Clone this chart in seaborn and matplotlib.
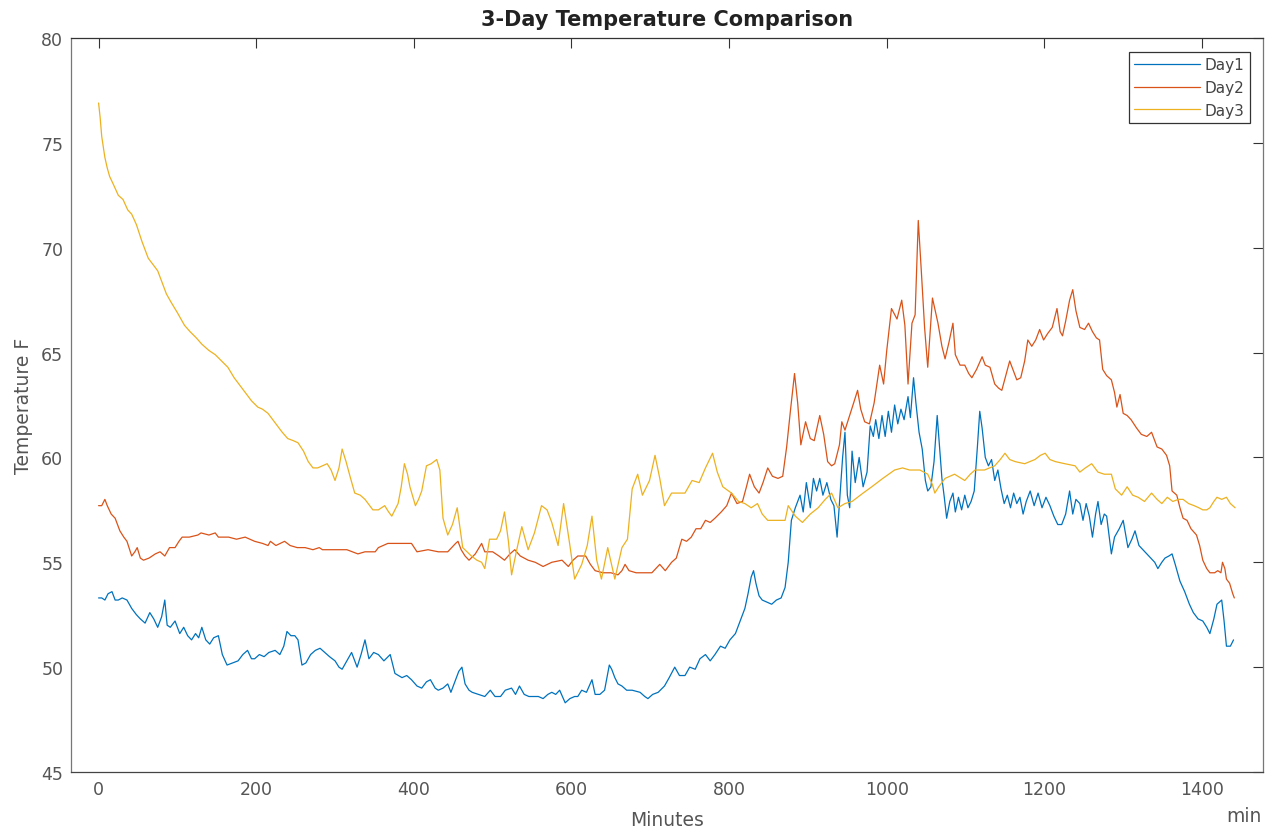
import matplotlib
matplotlib.use("Agg")
import matplotlib.pyplot as plt
import seaborn as sns
import pandas as pd

# ---------------- data ----------------
day_names = ["Day1", "Day2", "Day3"]

day1_minutes = [0, 4, 8, 12, 17, 21, 25, 30, 36, 42, 48, 53, 59, 65, 70, 75, 80, 84, 87, 91, 97, 103, 108, 113, 118, 123, 127, 131, 136, 141, 146, 152, 157, 163, 170, 177, 183, 189, 194, 198, 204, 210, 216, 224, 230, 235, 239, 244, 249, 253, 258, 263, 269, 275, 281, 287, 293, 300, 305, 309, 315, 321, 328, 333, 338, 343, 349, 355, 362, 370, 376, 385, 391, 397, 404, 410, 416, 421, 427, 431, 437, 443, 447, 452, 457, 461, 465, 470, 474, 482, 490, 497, 503, 510, 516, 524, 529, 534, 540, 546, 552, 558, 564, 570, 575, 580, 585, 592, 598, 604, 608, 613, 619, 626, 630, 636, 642, 648, 651, 655, 659, 664, 670, 677, 687, 693, 697, 703, 710, 718, 724, 731, 737, 744, 750, 757, 763, 770, 776, 782, 789, 795, 801, 808, 814, 820, 824, 828, 831, 834, 838, 842, 848, 854, 860, 866, 871, 875, 879, 884, 890, 894, 898, 903, 907, 911, 915, 919, 924, 929, 933, 937, 941, 944, 947, 950, 953, 956, 960, 965, 970, 975, 979, 983, 986, 990, 994, 998, 1002, 1006, 1010, 1014, 1018, 1022, 1027, 1030, 1034, 1037, 1041, 1045, 1049, 1052, 1056, 1060, 1064, 1067, 1070, 1073, 1076, 1080, 1084, 1087, 1091, 1095, 1099, 1103, 1107, 1111, 1115, 1118, 1121, 1125, 1129, 1133, 1137, 1141, 1145, 1149, 1153, 1157, 1161, 1165, 1169, 1173, 1177, 1182, 1187, 1192, 1197, 1202, 1207, 1212, 1217, 1222, 1227, 1232, 1236, 1240, 1245, 1249, 1253, 1257, 1261, 1265, 1268, 1272, 1276, 1279, 1285, 1289, 1295, 1300, 1306, 1311, 1315, 1320, 1325, 1330, 1335, 1340, 1344, 1349, 1353, 1358, 1362, 1366, 1372, 1378, 1384, 1389, 1395, 1401, 1406, 1410, 1415, 1419, 1425, 1428, 1431, 1436, 1440]
day1_temps = [53.3, 53.3, 53.2, 53.5, 53.6, 53.2, 53.2, 53.3, 53.2, 52.8, 52.5, 52.3, 52.1, 52.6, 52.3, 51.9, 52.4, 53.2, 52.0, 51.9, 52.2, 51.6, 51.9, 51.5, 51.3, 51.6, 51.4, 51.9, 51.3, 51.1, 51.4, 51.5, 50.6, 50.1, 50.2, 50.3, 50.6, 50.8, 50.4, 50.4, 50.6, 50.5, 50.7, 50.8, 50.6, 51.0, 51.7, 51.5, 51.5, 51.3, 50.1, 50.2, 50.6, 50.8, 50.9, 50.7, 50.5, 50.3, 50.0, 49.9, 50.3, 50.7, 50.0, 50.6, 51.3, 50.4, 50.7, 50.6, 50.3, 50.6, 49.7, 49.5, 49.6, 49.4, 49.1, 49.0, 49.3, 49.4, 49.0, 48.9, 49.0, 49.2, 48.8, 49.3, 49.8, 50.0, 49.2, 48.9, 48.8, 48.7, 48.6, 48.9, 48.6, 48.6, 48.9, 49.0, 48.7, 49.1, 48.7, 48.6, 48.6, 48.6, 48.5, 48.7, 48.8, 48.7, 48.9, 48.3, 48.5, 48.6, 48.6, 48.9, 48.8, 49.4, 48.7, 48.7, 48.9, 50.1, 49.9, 49.5, 49.2, 49.1, 48.9, 48.9, 48.8, 48.6, 48.5, 48.7, 48.8, 49.1, 49.5, 50.0, 49.6, 49.6, 50.0, 49.9, 50.4, 50.6, 50.3, 50.6, 51.0, 50.9, 51.3, 51.6, 52.2, 52.8, 53.5, 54.3, 54.6, 54.0, 53.4, 53.2, 53.1, 53.0, 53.2, 53.3, 53.8, 55.0, 57.0, 57.6, 58.2, 57.4, 58.8, 57.6, 59.0, 58.4, 59.0, 58.2, 58.8, 58.0, 57.7, 56.2, 58.4, 60.0, 61.2, 58.2, 57.6, 60.3, 58.8, 60.0, 58.6, 59.3, 61.5, 61.0, 61.8, 60.9, 62.0, 61.0, 62.2, 61.2, 62.5, 61.6, 62.3, 61.8, 62.9, 61.9, 63.8, 62.6, 61.2, 60.4, 58.9, 58.4, 58.6, 59.8, 62.0, 60.5, 59.0, 58.1, 57.1, 57.9, 58.3, 57.4, 58.1, 57.5, 58.2, 57.6, 57.9, 58.4, 60.5, 62.2, 61.4, 60.0, 59.6, 59.9, 58.9, 59.4, 58.5, 57.8, 58.2, 57.6, 58.3, 57.8, 58.1, 57.3, 57.9, 58.4, 57.7, 58.3, 57.6, 58.1, 57.7, 57.2, 56.8, 56.8, 57.3, 58.4, 57.3, 58.0, 57.8, 57.0, 57.8, 57.2, 56.2, 57.3, 57.9, 56.8, 57.3, 57.2, 55.4, 56.2, 56.6, 57.0, 55.7, 56.1, 56.5, 55.8, 55.6, 55.4, 55.2, 55.0, 54.7, 55.0, 55.2, 55.3, 55.4, 54.9, 54.1, 53.6, 53.0, 52.6, 52.3, 52.2, 51.9, 51.6, 52.3, 53.0, 53.2, 52.2, 51.0, 51.0, 51.3]

day2_minutes = [0, 4, 8, 11, 16, 21, 27, 32, 36, 42, 46, 49, 53, 57, 64, 72, 78, 84, 90, 97, 102, 106, 115, 126, 130, 140, 148, 152, 165, 175, 186, 198, 208, 215, 218, 225, 236, 243, 252, 262, 272, 280, 284, 300, 315, 322, 329, 338, 351, 355, 367, 380, 397, 404, 418, 431, 443, 448, 453, 456, 460, 465, 470, 478, 486, 490, 500, 508, 515, 522, 528, 535, 545, 554, 564, 575, 588, 596, 602, 608, 618, 624, 630, 640, 650, 659, 664, 668, 673, 682, 692, 702, 712, 719, 727, 733, 740, 746, 752, 758, 764, 770, 776, 782, 790, 797, 803, 810, 817, 822, 826, 832, 838, 843, 849, 855, 862, 868, 873, 878, 883, 887, 891, 897, 903, 908, 915, 920, 925, 930, 934, 940, 943, 947, 953, 958, 963, 967, 972, 978, 984, 991, 996, 1000, 1006, 1013, 1019, 1023, 1027, 1032, 1036, 1040, 1044, 1048, 1052, 1058, 1065, 1070, 1074, 1079, 1084, 1087, 1093, 1099, 1104, 1108, 1114, 1121, 1125, 1131, 1137, 1142, 1146, 1151, 1156, 1160, 1165, 1170, 1175, 1179, 1184, 1189, 1194, 1199, 1204, 1210, 1216, 1220, 1223, 1227, 1232, 1236, 1240, 1245, 1251, 1256, 1261, 1266, 1270, 1274, 1279, 1285, 1289, 1292, 1296, 1300, 1305, 1310, 1317, 1323, 1330, 1336, 1343, 1349, 1355, 1359, 1362, 1368, 1372, 1376, 1381, 1386, 1393, 1397, 1401, 1406, 1410, 1416, 1420, 1424, 1426, 1429, 1431, 1435, 1439, 1441]
day2_temps = [57.7, 57.7, 58.0, 57.7, 57.3, 57.1, 56.5, 56.2, 56.0, 55.3, 55.5, 55.7, 55.2, 55.1, 55.2, 55.4, 55.5, 55.3, 55.7, 55.7, 56.0, 56.2, 56.2, 56.3, 56.4, 56.3, 56.4, 56.2, 56.2, 56.1, 56.2, 56.0, 55.9, 55.8, 56.0, 55.8, 56.0, 55.8, 55.7, 55.7, 55.6, 55.7, 55.6, 55.6, 55.6, 55.5, 55.4, 55.5, 55.5, 55.7, 55.9, 55.9, 55.9, 55.5, 55.6, 55.5, 55.5, 55.7, 55.9, 56.0, 55.6, 55.3, 55.1, 55.4, 55.9, 55.5, 55.5, 55.3, 55.1, 55.4, 55.6, 55.3, 55.1, 55.0, 54.8, 55.0, 55.1, 54.8, 55.1, 55.3, 55.3, 54.9, 54.6, 54.5, 54.5, 54.4, 54.6, 54.9, 54.6, 54.5, 54.5, 54.5, 54.9, 54.6, 55.0, 55.2, 56.1, 56.0, 56.2, 56.6, 56.6, 57.0, 56.9, 57.1, 57.4, 57.7, 58.3, 57.8, 57.9, 58.6, 59.2, 58.6, 58.3, 58.8, 59.5, 59.1, 59.0, 59.1, 60.5, 62.3, 64.0, 62.6, 60.6, 61.7, 60.9, 60.8, 62.0, 61.1, 59.8, 59.6, 59.7, 60.6, 61.7, 61.3, 62.0, 62.6, 63.2, 62.3, 61.7, 61.6, 62.6, 64.4, 63.5, 65.1, 67.1, 66.6, 67.5, 66.3, 63.5, 66.4, 66.8, 71.3, 68.8, 66.2, 64.3, 67.6, 66.4, 65.3, 64.7, 65.5, 66.4, 64.9, 64.4, 64.4, 64.0, 63.8, 64.2, 64.8, 64.4, 64.3, 63.5, 63.3, 63.2, 63.9, 64.6, 64.2, 63.7, 63.8, 64.6, 65.6, 65.3, 65.6, 66.1, 65.6, 65.9, 66.2, 67.1, 66.0, 65.8, 66.5, 67.5, 68.0, 67.0, 66.2, 66.1, 66.4, 66.0, 65.7, 65.6, 64.2, 63.9, 63.7, 63.1, 62.4, 63.0, 62.1, 62.0, 61.8, 61.4, 61.1, 61.0, 61.2, 60.5, 60.4, 60.1, 59.6, 58.4, 58.2, 57.6, 57.1, 57.0, 56.6, 56.3, 55.8, 55.1, 54.7, 54.5, 54.5, 54.6, 54.5, 55.0, 54.7, 54.2, 54.0, 53.5, 53.3]

day3_minutes = [0, 2, 4, 8, 11, 14, 19, 25, 31, 37, 42, 48, 55, 63, 69, 75, 80, 86, 92, 100, 109, 116, 124, 131, 140, 148, 156, 164, 172, 182, 188, 194, 202, 208, 215, 221, 227, 233, 240, 247, 253, 260, 266, 272, 278, 284, 290, 295, 300, 305, 309, 314, 319, 325, 332, 338, 348, 355, 363, 368, 372, 380, 384, 388, 392, 395, 402, 406, 410, 416, 422, 429, 433, 437, 443, 449, 455, 462, 473, 480, 486, 490, 496, 505, 510, 515, 520, 524, 530, 537, 545, 553, 562, 569, 575, 583, 590, 598, 604, 613, 620, 626, 632, 638, 646, 655, 664, 671, 677, 684, 690, 699, 706, 712, 718, 727, 735, 744, 753, 762, 770, 779, 785, 792, 803, 812, 820, 828, 836, 842, 849, 860, 871, 875, 884, 893, 903, 913, 922, 930, 938, 947, 956, 970, 981, 995, 1010, 1020, 1029, 1042, 1052, 1058, 1061, 1066, 1074, 1086, 1099, 1106, 1112, 1124, 1137, 1144, 1150, 1156, 1163, 1175, 1188, 1195, 1201, 1207, 1214, 1226, 1239, 1245, 1252, 1260, 1268, 1276, 1285, 1290, 1298, 1305, 1312, 1319, 1327, 1336, 1343, 1349, 1356, 1363, 1370, 1376, 1383, 1390, 1396, 1401, 1406, 1410, 1415, 1419, 1425, 1431, 1436, 1442]
day3_temps = [76.9, 76.2, 75.3, 74.3, 73.8, 73.4, 73.0, 72.5, 72.3, 71.8, 71.6, 71.1, 70.3, 69.5, 69.2, 68.9, 68.4, 67.8, 67.4, 66.9, 66.3, 66.0, 65.7, 65.4, 65.1, 64.9, 64.6, 64.3, 63.8, 63.3, 63.0, 62.7, 62.4, 62.3, 62.1, 61.8, 61.5, 61.2, 60.9, 60.8, 60.7, 60.3, 59.8, 59.5, 59.5, 59.6, 59.7, 59.4, 58.9, 59.5, 60.4, 59.8, 59.1, 58.3, 58.2, 58.0, 57.5, 57.5, 57.7, 57.4, 57.2, 57.8, 58.6, 59.7, 59.2, 58.6, 57.7, 58.0, 58.4, 59.6, 59.7, 59.9, 59.4, 57.1, 56.3, 56.8, 57.6, 55.7, 55.3, 55.1, 55.0, 54.7, 56.1, 56.1, 56.5, 57.4, 56.0, 54.4, 55.5, 56.7, 55.6, 56.4, 57.7, 57.5, 56.9, 55.8, 57.8, 55.8, 54.2, 54.9, 55.8, 57.2, 55.1, 54.2, 55.7, 54.2, 55.7, 56.1, 58.5, 59.2, 58.2, 58.9, 60.1, 59.0, 57.7, 58.3, 58.3, 58.3, 58.9, 58.8, 59.5, 60.2, 59.3, 58.6, 58.3, 57.9, 57.8, 57.6, 57.8, 57.3, 57.0, 57.0, 57.0, 57.7, 57.2, 56.9, 57.3, 57.6, 58.0, 58.3, 57.6, 57.8, 57.9, 58.3, 58.6, 59.0, 59.4, 59.5, 59.4, 59.4, 59.2, 58.7, 58.3, 58.6, 59.0, 59.2, 58.9, 59.2, 59.4, 59.4, 59.6, 59.9, 60.2, 59.9, 59.8, 59.7, 59.9, 60.1, 60.2, 59.9, 59.8, 59.7, 59.6, 59.3, 59.5, 59.7, 59.3, 59.2, 59.2, 58.5, 58.2, 58.6, 58.2, 58.1, 57.9, 58.3, 58.0, 57.8, 58.1, 57.9, 58.0, 58.0, 57.8, 57.7, 57.6, 57.5, 57.5, 57.6, 57.9, 58.1, 58.0, 58.1, 57.8, 57.6]

x_ticks = [0, 200, 400, 600, 800, 1000, 1200, 1400]
y_ticks = [45, 50, 55, 60, 65, 70, 75, 80]
line_colors = ["#0072BD", "#D95319", "#EDB120"]

# ---------------- figure ----------------
sns.set_theme(style="white")
plt.rcParams["font.family"] = ["DejaVu Sans"]

frames = []
for name, mins, temps in zip(day_names,
                             [day1_minutes, day2_minutes, day3_minutes],
                             [day1_temps, day2_temps, day3_temps]):
    frames.append(pd.DataFrame({"Minutes": mins, "Temperature": temps, "Day": name}))
df = pd.concat(frames, ignore_index=True)

W, H = 1265, 829
fig = plt.figure(figsize=(W / 100, H / 100), dpi=100)
ax = fig.add_axes([71 / W, (H - 773) / H, (1262.7 - 71) / W, (773 - 39) / H])

sns.lineplot(data=df, x="Minutes", y="Temperature", hue="Day",
             hue_order=day_names, palette=line_colors,
             estimator=None, sort=False, linewidth=0.9, ax=ax)

ax.set_xlim(-35, 1477)
ax.set_ylim(45, 80)
ax.set_xticks(x_ticks)
ax.set_yticks(y_ticks)
ax.tick_params(direction="in", length=7, width=0.8, top=True, right=True,
               color="#333333", labelcolor="#555555", labelsize=12.5, pad=5.5)

for side, col in [("top", "#333333"), ("bottom", "#444444"),
                  ("left", "#777777"), ("right", "#777777")]:
    ax.spines[side].set_color(col)
    ax.spines[side].set_linewidth(0.9)
    ax.spines[side].set_visible(True)

ax.set_xlabel("Minutes", fontsize=13.5, color="#555555", labelpad=9)
ax.set_ylabel("Temperature F", fontsize=13.5, color="#555555", labelpad=6)
ax.set_title("3-Day Temperature Comparison", fontsize=15, fontweight="bold",
             color="#222222", pad=9.5)

handles, labels = ax.get_legend_handles_labels()
pairs = [(h, l) for h, l in zip(handles, labels) if l in day_names]
leg = ax.legend([p[0] for p in pairs], [p[1] for p in pairs],
                loc="upper right", bbox_to_anchor=(0.9893, 0.981),
                borderaxespad=0, fontsize=11, frameon=True, fancybox=False,
                framealpha=1, edgecolor="#333333", handlelength=4.3,
                handletextpad=0.3, borderpad=0.35, labelspacing=0.5)
leg.get_frame().set_linewidth(0.9)
for t in leg.get_texts():
    t.set_color("#444444")

fig.text(1262 / W, (H - 817) / H, "min", ha="right", va="center",
         fontsize=13.5, color="#555555")

fig.savefig("out.png", dpi=100, facecolor="white")
